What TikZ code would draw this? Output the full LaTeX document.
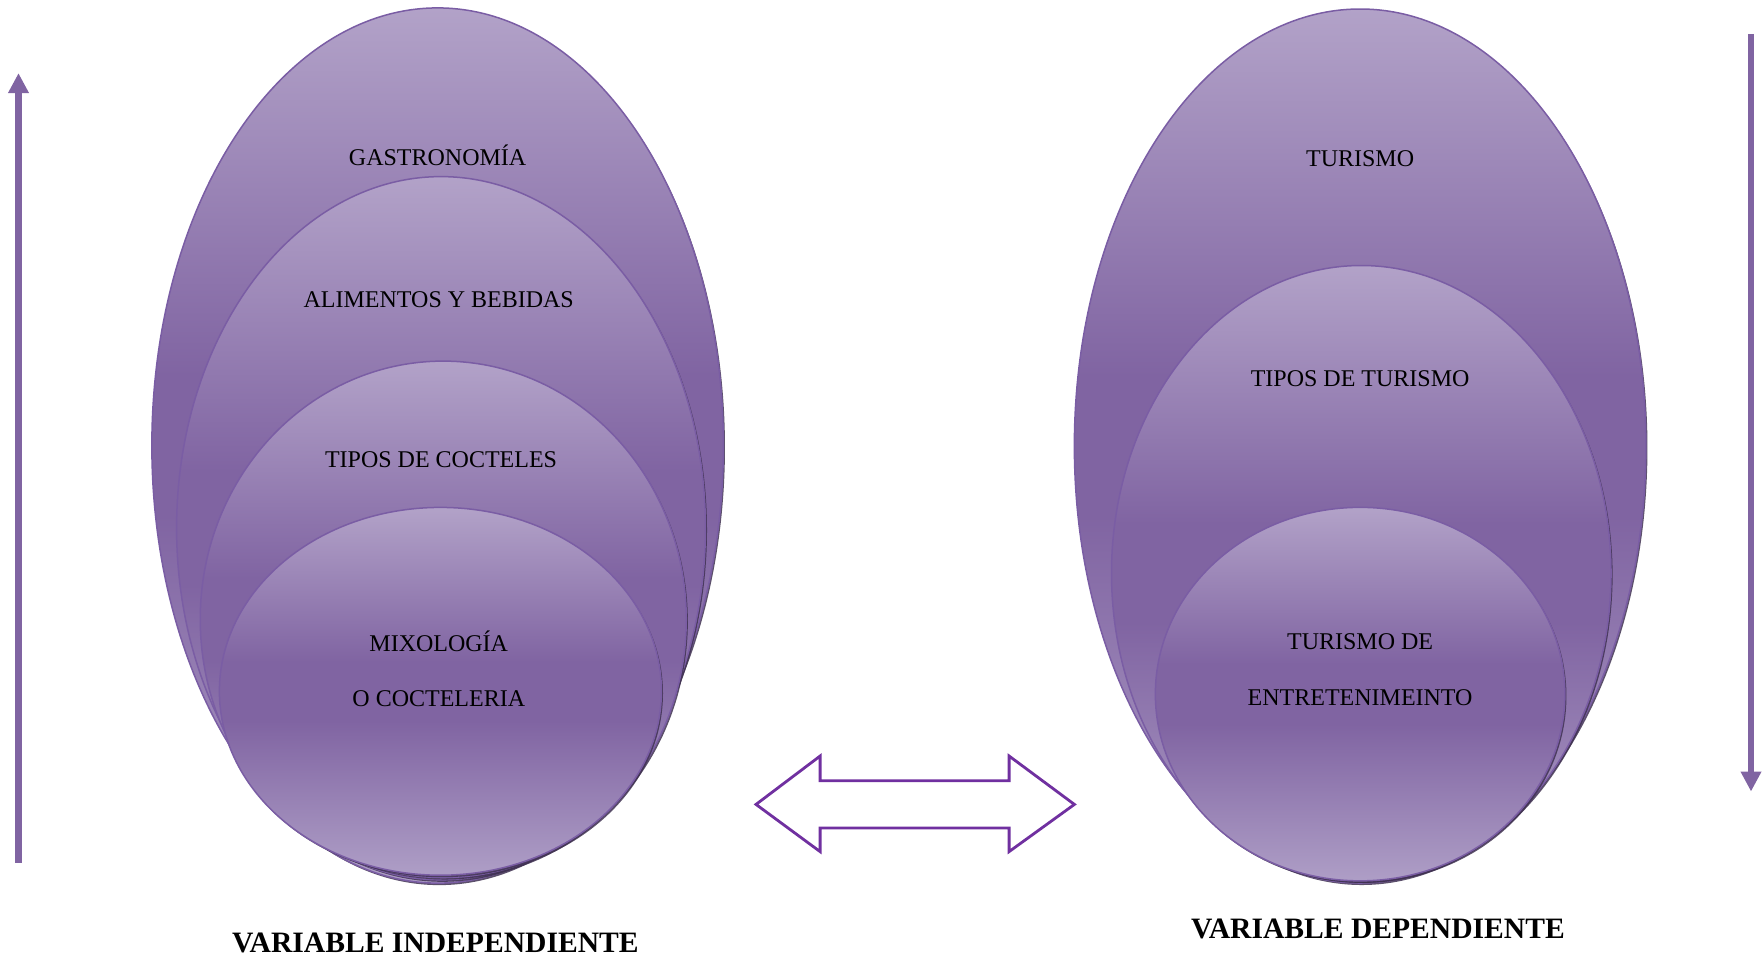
\documentclass[tikz,border=0pt]{standalone}
\usepackage{fontspec}
\setmainfont{Liberation Serif}
\usetikzlibrary{arrows.meta,shapes.geometric,shadows}

\definecolor{lavtop}{HTML}{B2A2C8}
\definecolor{lavmid}{HTML}{8064A2}
\definecolor{lavbot}{HTML}{AE9EC6}
\definecolor{lavline}{HTML}{7A5DA4}
\definecolor{lavshadow}{HTML}{3F3151}
\definecolor{arrowviolet}{HTML}{7030A0}
\definecolor{stemviolet}{HTML}{8064A2}

% light at top and bottom, a broad dark band through the middle
\pgfdeclareverticalshading{lavband}{100bp}{color(0bp)=(lavbot); color(25bp)=(lavbot);
  color(46bp)=(lavmid); color(54bp)=(lavmid); color(75bp)=(lavtop); color(100bp)=(lavtop)}

\begin{document}
\begin{tikzpicture}[x=0.5pt,y=-0.5pt,
  bubble/.style={ellipse, inner sep=0pt, draw=lavline, line width=0.75pt,
    shading=lavband,
    drop shadow={shadow xshift=0.8pt, shadow yshift=-1pt, fill=lavshadow, opacity=0.85}},
  lbl/.style={anchor=base, inner sep=0pt, font=\fontsize{12pt}{14pt}\selectfont},
  title/.style={anchor=base, inner sep=0pt, font=\fontsize{14.8pt}{17pt}\selectfont\bfseries},
  stem/.style={draw=stemviolet, line width=3.2pt, -{Triangle[width=9.8pt,length=10pt]}},
  twoway/.style={draw=arrowviolet, line width=1.4pt, fill=white, line join=miter}]
\useasboundingbox (0,0) rectangle (1764,960);

% independent variable: nested ellipses
\node[bubble, minimum width=285.75pt, minimum height=437.6pt] (gastro) at (437.6,445.5) {};
\node[bubble, minimum width=264.4pt, minimum height=351.6pt] (alim) at (441,528.2) {};
\node[bubble, minimum width=243pt, minimum height=258.2pt] (tipcoc) at (443.25,619.3) {};
\node[bubble, minimum width=221pt, minimum height=183.9pt] (mixo) at (440.4,691.3) {};

\node[lbl] (tgastro) at (437.6,165.5) {GASTRONOMÍA};
\node[lbl] (talim) at (438.75,307.25) {ALIMENTOS Y BEBIDAS};
\node[lbl] (ttipcoc) at (441,467) {TIPOS DE COCTELES};
\node[lbl] (tmixo1) at (438.75,651.5) {MIXOLOGÍA};
\node[lbl] (tmixo2) at (438.75,706.6) {O COCTELERIA};

% dependent variable: nested ellipses
\node[bubble, minimum width=285.75pt, minimum height=437pt] (turismo) at (1360.1,446) {};
\node[bubble, minimum width=249.75pt, minimum height=307.7pt] (tiptur) at (1361.25,573.2) {};
\node[bubble, minimum width=204.75pt, minimum height=186.75pt] (entre) at (1360.1,694.1) {};

\node[lbl] (tturismo) at (1360.1,166.6) {TURISMO};
\node[lbl] (ttiptur) at (1360.1,386) {TIPOS DE TURISMO};
\node[lbl] (tentre1) at (1360.1,649.25) {TURISMO DE};
\node[lbl] (tentre2) at (1360.1,705.5) {ENTRETENIMEINTO};

% captions
\node[title] (indep) at (435.4,952.25) {VARIABLE INDEPENDIENTE};
\node[title] (dep) at (1378,938.75) {VARIABLE DEPENDIENTE};

% vertical direction arrows
\coordinate (upfoot) at (18.5,862.9);
\coordinate (uptip) at (18.5,73.1);
\draw[stem] (upfoot) -- (uptip);
\coordinate (downfoot) at (1751,33.75);
\coordinate (downtip) at (1751,791.5);
\draw[stem] (downfoot) -- (downtip);

% two-way block arrow between the variables
\draw[twoway] (756,804.4) -- (820.1,756) -- (820.1,780.75) -- (1009.1,780.75)
  -- (1009.1,756) -- (1074.4,804.4) -- (1009.1,851.6) -- (1009.1,828)
  -- (820.1,828) -- (820.1,851.6) -- cycle;
\end{tikzpicture}
\end{document}
